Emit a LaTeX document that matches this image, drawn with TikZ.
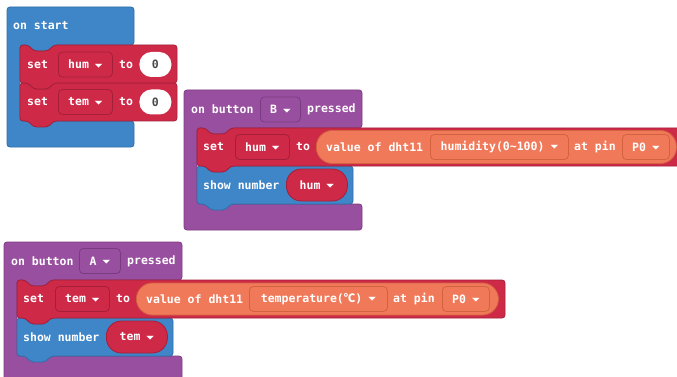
\documentclass[tikz,border=0pt]{standalone}
\usepackage{fontspec}
\usepackage{graphicx}
\setmonofont{DejaVu Sans Mono}
\newfontfamily\symfont{DejaVu Sans}
\newfontfamily\cjk{Noto Sans CJK SC}
\usetikzlibrary{positioning}

\definecolor{blkblue}{HTML}{3E86C8}
\definecolor{blueD}{HTML}{2F6DA8}
\definecolor{blkred}{HTML}{CE2A48}
\definecolor{redD}{HTML}{A51F39}
\definecolor{blkpur}{HTML}{994F9F}
\definecolor{purD}{HTML}{7A3C80}
\definecolor{blkorg}{HTML}{F0795A}
\definecolor{orgD}{HTML}{D3633F}
\definecolor{numgray}{HTML}{4A4A4A}

\tikzstyle{lbl} = [draw=none, inner sep = 0, anchor = west, text = white, font = \ttfamily\bfseries\fontsize{11.5}{13}\selectfont]
\tikzstyle{field} = [lbl, inner xsep = 8pt, minimum height = 25pt, rounded corners = 4pt, line width = 0.8pt]
\tikzstyle{pill} = [lbl, inner xsep = 9pt, rounded corners = 12pt, line width = 0.8pt]
\tikzstyle{blk} = [rounded corners = 3pt, line width = 0.8pt]

% dropdown arrow
\newcommand{\ddtri}{\hspace{6pt}\raisebox{1.5pt}{\scalebox{1.1}[0.55]{\symfont\fontsize{9}{9}\selectfont ▼}}}
% hat block with mouth: style, x, y, w, head h, mouth h, foot h
\newcommand{\hatblock}[7]{\path [#1] (#2, #3) -- ++(#4, 0) -- ++(0, #5) -- ++({47-#4}, 0) -- ++(-6, 6) -- ++(-14, 0) -- ++(-6, -6) -- ++(-8, 0) -- ++(0, #6) -- ++({#4-13}, 0) -- ++(0, #7) -- ++(-#4, 0) -- cycle;}
% statement block: style, x, y, w, h
\newcommand{\blockstmt}[5]{\path [#1] (#2, #3) -- ++(8, 0) -- ++(6, 6) -- ++(14, 0) -- ++(6, -6) -- ++({#4-34}, 0) -- ++(0, #5) -- ++({34-#4}, 0) -- ++(-6, 6) -- ++(-14, 0) -- ++(-6, -6) -- ++(-8, 0) -- cycle;}

\begin{document}
\begin{tikzpicture}[x=1pt, y=-1pt]
\clip (0, 0) rectangle (677, 377);
\fill [white] (0, 0) rectangle (677, 377);

%% on start
\hatblock{blk, fill = blkblue, draw = blueD}{7}{7}{127}{38}{76}{26}
\blockstmt{blk, fill = blkred, draw = redD}{20}{83}{157}{38}
\blockstmt{blk, fill = blkred, draw = redD}{20}{45}{157}{38}
\node [lbl] (startL) at (13, 26) {on start};
\node [lbl] (set1) at (27, 64.5) {set};
\node [field, draw = redD, fill = blkred, minimum width = 54pt] (hum1) at (58, 64.5) {hum\ddtri};
\node [lbl] (to1) at (119, 64.5) {to};
\node [pill, fill = white, text = numgray, minimum width = 32pt, minimum height = 25pt] (zero1) at (139, 64.5) {0};
\node [lbl] (set2) at (27, 102) {set};
\node [field, draw = redD, fill = blkred, minimum width = 54pt] (tem1) at (58, 102) {tem\ddtri};
\node [lbl] (to2) at (119, 102) {to};
\node [pill, fill = white, text = numgray, minimum width = 32pt, minimum height = 25pt] (zero2) at (139, 102) {0};

%% on button B pressed
\hatblock{blk, fill = blkpur, draw = purD}{184}{90}{178}{38}{76}{26}
\blockstmt{blk, fill = blkblue, draw = blueD}{197}{166}{156}{38}
\blockstmt{blk, fill = blkred, draw = redD}{197}{128}{485}{38}
\node [lbl] (btnB) at (191, 109.5) {on button};
\node [field, draw = purD, fill = blkpur, minimum width = 40pt] (keyB) at (260, 109.5) {B\ddtri};
\node [lbl] (presB) at (307, 109.5) {pressed};
\node [lbl] (set3) at (203, 147) {set};
\node [field, draw = redD, fill = blkred, minimum width = 54pt] (hum2) at (235, 147) {hum\ddtri};
\node [lbl] (to3) at (296, 147) {to};
\node [pill, fill = blkorg, draw = orgD, rounded corners = 16pt, minimum width = 360pt, minimum height = 33pt, inner xsep = 0] (valB) at (316, 147) {};
\node [lbl] (dhtB) at (326, 147) {value of dht11};
\node [field, draw = orgD, fill = blkorg, minimum width = 138pt] (humSel) at (430, 147) {humidity(0\textasciitilde100)\ddtri};
\node [lbl] (pinB) at (574, 147) {at pin};
\node [field, draw = orgD, fill = blkorg, minimum width = 47pt] (p0B) at (622, 147) {P0\ddtri};
\node [lbl] (showB) at (203, 185) {show number};
\node [pill, fill = blkred, draw = redD, rounded corners = 15pt, minimum width = 61pt, minimum height = 32pt] (humV) at (286, 185) {hum\ddtri};

%% on button A pressed
\hatblock{blk, fill = blkpur, draw = purD}{4}{242}{178}{38}{76}{26}
\blockstmt{blk, fill = blkblue, draw = blueD}{17}{318}{156}{38}
\blockstmt{blk, fill = blkred, draw = redD}{17}{280}{488}{38}
\node [lbl] (btnA) at (11, 261) {on button};
\node [field, draw = purD, fill = blkpur, minimum width = 41pt] (keyA) at (79, 261) {A\ddtri};
\node [lbl] (presA) at (127, 261) {pressed};
\node [lbl] (set4) at (23, 299) {set};
\node [field, draw = redD, fill = blkred, minimum width = 54pt] (tem2) at (55, 299) {tem\ddtri};
\node [lbl] (to4) at (116, 299) {to};
\node [pill, fill = blkorg, draw = orgD, rounded corners = 16pt, minimum width = 362pt, minimum height = 32pt, inner xsep = 0] (valA) at (136, 299) {};
\node [lbl] (dhtA) at (146, 299) {value of dht11};
\node [field, draw = orgD, fill = blkorg, minimum width = 138pt] (temSel) at (249, 299) {temperature({\cjk ℃})\ddtri};
\node [lbl] (pinA) at (393, 299) {at pin};
\node [field, draw = orgD, fill = blkorg, minimum width = 47pt] (p0A) at (442, 299) {P0\ddtri};
\node [lbl] (showA) at (23, 337) {show number};
\node [pill, fill = blkred, draw = redD, rounded corners = 15pt, minimum width = 61pt, minimum height = 32pt] (temV) at (106, 337) {tem\ddtri};
\end{tikzpicture}
\end{document}
